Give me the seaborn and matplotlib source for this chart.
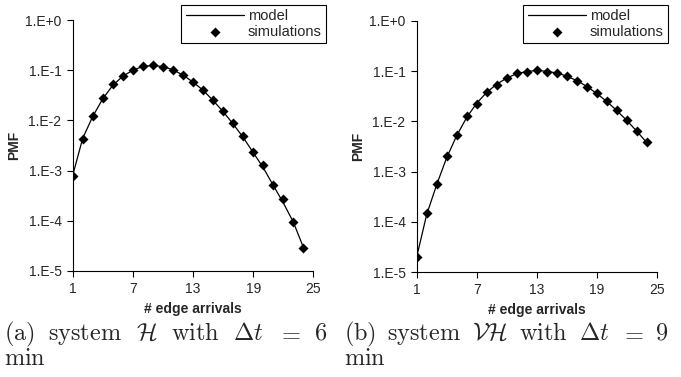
import numpy as np
import pandas as pd
import seaborn as sns
import matplotlib
matplotlib.use("Agg")
from matplotlib import pyplot as plt

# 数据
arrivals = list(range(1, 25))
sim_h = [7.9e-4, 4.3e-3, 1.2e-2, 2.8e-2, 5.2e-2, 7.6e-2, 0.103, 0.122, 0.126, 0.117, 0.103, 0.079,
         0.058, 0.040, 0.025, 0.0154, 0.0089, 0.0050, 0.00233, 0.0013, 5.2e-4, 2.7e-4, 9.5e-5, 2.9e-5]
model_h = [8.0e-4, 4.4e-3, 1.2e-2, 2.7e-2, 5.0e-2, 7.6e-2, 0.100, 0.119, 0.124, 0.118, 0.102, 0.080,
           0.058, 0.040, 0.025, 0.0150, 0.0085, 0.0046, 0.0023, 0.00115, 5.1e-4, 2.3e-4, 9.5e-5, 3.0e-5]
sim_vh = [2.0e-5, 1.5e-4, 5.7e-4, 2.06e-3, 5.3e-3, 1.26e-2, 2.26e-2, 3.8e-2, 5.4e-2, 7.4e-2, 9.0e-2, 9.8e-2,
          0.105, 0.098, 0.093, 0.079, 0.064, 0.049, 0.036, 0.025, 0.0166, 0.0108, 0.0063, 0.0038]
model_vh = [2.0e-5, 1.4e-4, 5.5e-4, 1.9e-3, 5.2e-3, 1.2e-2, 2.3e-2, 3.8e-2, 5.5e-2, 7.3e-2, 8.9e-2, 9.9e-2,
            0.103, 0.100, 0.092, 0.080, 0.065, 0.050, 0.036, 0.025, 0.0165, 0.0105, 0.0064, 0.0038]

x_ticks = [1, 7, 13, 19, 25]
y_ticks = [1e-5, 1e-4, 1e-3, 1e-2, 1e-1, 1e0]
y_labels = ['1.E-5', '1.E-4', '1.E-3', '1.E-2', '1.E-1', '1.E+0']
caption_a = [r'$\mathrm{(a)}$', r'$\mathrm{system}$', r'$\mathcal{H}$', r'$\mathrm{with}$',
             r'$\Delta t$', r'$=$', r'$6$']
caption_b = [r'$\mathrm{(b)}$', r'$\mathrm{system}$', r'$\mathcal{VH}$', r'$\mathrm{with}$',
             r'$\Delta t$', r'$=$', r'$9$']


def justify(fig, pieces, x0, x1, y, size):
    # 两端对齐放置标题的各个词
    r = fig.canvas.get_renderer()
    texts = [fig.text(0, y, p, fontsize=size, ha='left', va='baseline') for p in pieces]
    widths = [t.get_window_extent(r).width for t in texts]
    W = fig.get_figwidth() * fig.dpi
    gap = ((x1 - x0) - sum(widths)) / (len(pieces) - 1)
    x = x0
    for t, w in zip(texts, widths):
        t.set_x(x / W)
        x += w + gap


sns.set_style("ticks")
plt.rcParams['font.family'] = ['Liberation Sans', 'DejaVu Sans']
plt.rcParams['mathtext.fontset'] = 'cm'

fig = plt.figure(figsize=(6.81, 3.77), dpi=100)
ax1 = fig.add_axes([72.7 / 681, 1 - 271 / 377, 240.6 / 681, 251 / 377])
ax2 = fig.add_axes([416.7 / 681, 1 - 272 / 377, 240 / 681, 251 / 377])

for ax, sim, model, lx in [(ax1, sim_h, model_h, 326), (ax2, sim_vh, model_vh, 668)]:
    df = pd.DataFrame({'x': arrivals, 'sim': sim, 'model': model})
    sns.lineplot(data=df, x='x', y='model', ax=ax, color='black', linewidth=0.9, label='model')
    sns.scatterplot(data=df, x='x', y='sim', ax=ax, color='black', marker='D', s=26,
                    edgecolor='black', linewidth=0, label='simulations', zorder=3)
    ax.set_yscale('log')
    ax.set_xlim(1, 25)
    ax.set_ylim(1e-5, 1)
    ax.set_xticks(x_ticks)
    ax.set_yticks(y_ticks)
    ax.set_yticklabels(y_labels)
    ax.minorticks_off()
    ax.tick_params(labelsize=10, length=4, width=0.8, direction='out', color='black', pad=4)
    ax.set_xlabel('# edge arrivals', fontsize=10, fontweight='bold', labelpad=4)
    ax.set_ylabel('PMF', fontsize=10, fontweight='bold', labelpad=3)
    for s in ['top', 'right']:
        ax.spines[s].set_visible(False)
    for s in ['left', 'bottom']:
        ax.spines[s].set_color('black')
        ax.spines[s].set_linewidth(0.8)
    leg = ax.legend(loc='upper right', bbox_to_anchor=(lx / 681, 1 - 5 / 377),
                    bbox_transform=fig.transFigure, borderaxespad=0, fontsize=10.5, frameon=True,
                    fancybox=False, framealpha=1, edgecolor='black', borderpad=0.3,
                    handlelength=4.0, handletextpad=0.25, labelspacing=0.1)
    leg.get_frame().set_linewidth(0.8)

justify(fig, caption_a, 4, 327, 1 - 340 / 377, 17.5)
justify(fig, caption_b, 344, 668, 1 - 340 / 377, 17.5)
fig.text(4 / 681, 1 - 365 / 377, r'$\mathrm{min}$', fontsize=17.5, ha='left', va='baseline')
fig.text(344 / 681, 1 - 365 / 377, r'$\mathrm{min}$', fontsize=17.5, ha='left', va='baseline')

fig.savefig('out.png', dpi=100)
